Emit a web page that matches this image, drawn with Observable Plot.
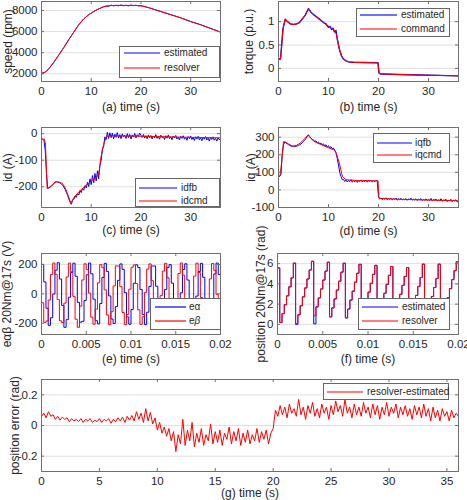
<!DOCTYPE html>
<html><head><meta charset="utf-8">
<script src="https://cdn.jsdelivr.net/npm/d3@7"></script>
<script src="https://cdn.jsdelivr.net/npm/@observablehq/plot@0.6"></script>
<style>
body{margin:0;background:#fff;}
#fig{position:relative;width:467px;height:500px;overflow:hidden;font-family:'Liberation Sans',Arial,sans-serif;color:#262626;}
.panel{position:absolute;}
.leg{position:absolute;background:#fff;border:1px solid #666;box-sizing:border-box;}
</style></head>
<body><div id="fig"></div>
<script>
// ---------- (a) speed ----------
const speedResT = [0,0.5,1,1.5,2.5,3.5,4.5,5.5,6.5,7.5,8.5,9.5,10.5,11.5,12.5,13.5,15,17,19,20,21,22,24,26,28,30,32,34,36];
const speedResV = [2050,2100,2250,2500,3100,3800,4500,5250,5950,6650,7200,7600,7900,8150,8350,8460,8480,8480,8470,8440,8340,8200,7900,7600,7300,6950,6650,6300,5950];
const speedEstT = [0,0.5,1,1.5,2.5,3.5,4.5,5.5,6.5,7.5,8.5,9.5,10.5,11.5,12.5,13,13.5,14,14.5,15,15.5,16,16.5,17,17.5,18,18.5,19,19.5,20,21,22,24,26,28,30,32,34,36];
const speedEstV = [2050,2100,2250,2500,3100,3800,4500,5250,5950,6650,7200,7600,7900,8150,8350,8420,8380,8510,8430,8500,8440,8520,8450,8490,8430,8520,8460,8500,8440,8450,8340,8200,7900,7600,7300,6950,6650,6300,5950];
// ---------- (b) torque ----------
const torqueCmdT = [0,0.4,0.6,0.9,1.35,1.8,2.4,3,3.6,4.2,4.8,5.4,6.0,6.5,7,8,9,10,10.8,11.3,11.6,11.9,12.2,12.6,13,13.5,14,15,17,19.9,20.1,20.5,24,28,32,36];
const torqueCmdV = [0.2,0.2,0.45,0.85,1.05,1.0,0.95,0.94,0.95,0.98,1.06,1.15,1.28,1.2,1.15,1.07,0.98,0.9,0.84,0.8,0.72,0.55,0.4,0.27,0.2,0.16,0.14,0.13,0.125,0.12,-0.1,-0.12,-0.13,-0.14,-0.15,-0.16];
const torqueEstT = [0,0.4,0.6,0.9,1.35,1.8,2.4,3,3.6,4.2,4.8,5.4,6.0,6.5,7,8,9,9.5,10,10.3,10.6,10.9,11.2,11.5,11.7,11.9,12.2,12.6,13,13.5,14,15,17,19.9,20.1,20.5,24,28,32,36];
const torqueEstV = [0.2,0.2,0.45,0.85,1.05,1.0,0.95,0.94,0.95,0.98,1.06,1.15,1.28,1.2,1.15,1.07,0.98,0.95,0.88,0.9,0.83,0.86,0.78,0.81,0.66,0.55,0.4,0.27,0.2,0.16,0.14,0.13,0.125,0.12,-0.1,-0.12,-0.13,-0.14,-0.15,-0.16];
// ---------- (c) id ----------  (idfb sampled every 0.25 s)
const idfb = [-20,-21,-25,-62,-150,-206,-204,-201,-198,-193,
-188,-183,-181,-182,-184,-186,-189,-195,-201,-210,
-221,-232,-246,-258,-266,-252,-247,-236,-240,-226,
-231,-214,-222,-205,-213,-196,-204,-183,-199,-170,
-192,-158,-185,-150,-178,-140,-170,-120,-100,-60,
-48,-12,-22,5,-18,3,-15,2,-20,-2,
-14,4,-17,-4,-19,-1,-12,-6,-18,0,
-15,-3,-20,-5,-13,1,-16,-4,-11,2,
-6,-14,-3,-17,-8,-19,-5,-15,-7,-20,
-9,-16,-4,-18,-10,-21,-6,-15,-11,-22,
-8,-17,-5,-19,-12,-23,-9,-16,-7,-20,
-13,-24,-10,-18,-8,-21,-14,-25,-11,-19,
-9,-22,-15,-26,-12,-20,-10,-23,-16,-27,
-13,-21,-11,-24,-17,-28,-14,-22,-12,-25,
-18,-28,-15,-23,-20];
const idcmdT = [0,0.6,0.8,1.15,1.5,2.2,2.8,3.5,4.2,4.8,5.4,5.9,6.5,7.9,9.9,11.3,11.6,11.9,12.3,12.6,13.1,14,20,25,30,36];
const idcmdV = [-20,-21,-40,-207,-203,-192,-181,-182,-187,-205,-235,-262,-240,-212,-180,-160,-140,-95,-55,-35,-10,-8,-10,-12,-14,-16];
// ---------- (d) iq ----------  (iqfb sampled every 0.25 s)
const iqfb = [75,78,90,205,256,273,267,262,257,253,
249,248,246,247,249,250,253,257,262,268,
276,283,293,304,314,302,296,287,285,276,
279,268,272,262,266,256,262,250,257,243,
252,240,246,234,238,226,212,178,142,98,
76,58,60,48,56,45,54,47,58,44,
52,46,55,43,53,48,57,45,51,47,
56,44,53,49,55,45,52,46,54,50,
-40,-52,-46,-55,-48,-53,-45,-56,-49,-54,
-47,-57,-50,-53,-46,-58,-51,-55,-48,-57,
-52,-56,-49,-59,-51,-55,-47,-58,-53,-57,
-50,-60,-52,-56,-49,-61,-54,-58,-51,-60,
-55,-59,-48,-62,-55,-57,-52,-63,-56,-60,
-50,-64,-57,-59,-53,-66,-58,-61,-54,-67,
-59,-62,-56,-68,-63];
const iqcmdT = [0,0.3,0.6,1.0,1.5,2,2.7,3.5,4.3,5.1,5.9,6.5,7.1,8.5,9.8,11.2,11.6,12.2,12.8,13.5,16,19.9,20.1,25,30,36];
const iqcmdV = [75,78,150,275,270,262,250,252,265,287,312,292,276,258,242,226,205,148,75,58,53,52,-48,-54,-58,-62];
// ---------- (e) back-EMF, samples every 0.25 ms ----------
const eAlpha = [201,81,-98,-215,-163,-1,161,212,101,-79,
-228,-176,-23,146,209,120,-58,-193,-187,-45,
130,210,137,-36,-183,-205,-66,112,208,153,
-14,-171,-203,-87,92,204,167,8,-157,-207,
-107,72,198,180,30,-141,-210,-125,51,190,
190,52,-124,-210,-142,29,179,199,73,-105,
-207,-157,7,166,205,94,-86,-202,-171,-15,
152,208,113,-65,-196,-183,-38,136,210,131,
-44];
const eBeta = [-61,-194,-185,-42,132,210,134,-39,-184,-195,
-63,115,209,151,-17,-173,-228,-84,95,205,
165,5,-159,-207,-104,75,199,178,27,-144,
-210,-122,54,191,189,49,-127,-210,-140,32,
181,197,70,-109,-208,-156,10,169,204,90,
-89,-203,-169,-12,155,208,110,-68,-197,-182,
-34,139,210,128,-47,-188,-192,-56,121,209,
145,-25,-177,-200,-76,102,207,160,-3,-164,
-205];
// ---------- (f) position, samples every 0.25 ms ----------
const posResolver = [5.58,0.18,1.06,1.94,2.82,3.71,4.59,6.05,0.07,0.95,
1.84,2.72,3.60,4.48,5.37,6.25,0.85,1.73,2.61,3.50,
4.38,5.26,6.14,0.74,1.63,2.51,3.39,4.27,5.16,6.04,
0.64,1.52,2.40,3.28,4.17,5.05,5.93,0.53,1.41,2.30,
3.18,4.06,4.94,5.83,0.43,1.31,2.19,3.07,3.96,4.84,
5.72,0.32,1.20,2.09,2.97,3.85,4.73,5.62,0.22,1.10,
1.98,2.86,3.75,4.63,5.95,0.11,0.99,1.87,2.76,3.64,
4.52,5.95,0.00,0.89,1.77,2.65,3.53,4.42,5.30,6.18,
0.78];
const posEstimated = [5.58,0.18,1.06,1.94,2.82,3.71,4.59,6.05,0.00,0.95,
1.84,2.72,3.60,4.48,5.37,6.20,0.05,1.73,2.61,3.50,
4.38,5.26,6.14,0.74,1.63,2.51,3.39,4.27,5.16,6.04,
0.64,1.52,2.40,3.28,4.17,5.05,5.93,0.53,1.41,2.30,
3.18,4.06,4.94,5.83,0.43,1.31,2.19,3.07,3.96,4.84,
5.72,0.32,1.20,2.09,2.97,3.85,4.73,5.62,0.22,1.10,
1.98,2.86,3.75,4.63,5.95,0.11,0.99,1.87,2.76,3.64,
4.52,5.95,0.00,0.89,1.77,2.65,3.53,4.42,5.30,6.18,
0.78];
// ---------- (g) position error, every 0.2 s ----------
const posError = [0.06,0.08,0.05,0.09,0.06,0.07,0.04,0.06,0.035,0.055,
0.04,0.05,0.025,0.045,0.03,0.04,0.025,0.045,0.02,0.04,
0.03,0.045,0.02,0.035,0.025,0.045,0.02,0.04,0.03,0.045,
0.015,0.04,0.025,0.05,0.03,0.055,0.02,0.06,0.035,0.065,
0.03,0.09,0.04,0.08,0.02,0.11,0.03,0.085,0.01,0.05,
-0.03,0.02,-0.05,-0.01,-0.07,-0.02,-0.1,-0.04,-0.17,-0.06,
-0.12,0.04,-0.13,-0.03,-0.1,0.02,-0.14,-0.05,-0.11,-0.02,
-0.13,-0.06,-0.1,0.01,-0.12,-0.04,-0.11,-0.03,-0.13,-0.05,
-0.09,-0.01,-0.12,-0.04,-0.1,-0.02,-0.13,-0.05,-0.11,-0.03,
-0.12,-0.06,-0.1,-0.02,-0.11,-0.04,-0.09,-0.03,-0.12,-0.05,
-0.02,0.1,0.06,0.13,0.07,0.12,0.05,0.14,0.08,0.11,
0.06,0.17,0.07,0.12,0.04,0.13,0.08,0.15,0.06,0.11,
0.05,0.14,0.08,0.12,0.04,0.13,0.07,0.16,0.09,0.13,
0.06,0.17,0.08,0.12,0.05,0.14,0.07,0.12,0.06,0.15,
0.08,0.12,0.05,0.14,0.07,0.13,0.04,0.12,0.07,0.15,
0.06,0.12,0.08,0.14,0.05,0.12,0.07,0.13,0.06,0.11,
0.04,0.13,0.07,0.12,0.05,0.14,0.06,0.11,0.03,0.12,
0.05,0.1,0.03,0.11,0.06,0.09,0.03,0.1,0.05,0.08,
0.06];

// tick values
const ticksT36 = [0,10,20,30];
const ticksT5 = [0,5,10,15,20,25,30,35];
const ticksMs = [0,0.005,0.01,0.015,0.02];
const ticksSpeed = [2000,4000,6000,8000];
const ticksTorque = [0,0.5,1];
const ticksId = [-200,-100,0];
const ticksIq = [-100,0,100,200,300];
const ticksE = [-200,0,200];
const ticksPos = [0,2,4,6];
const ticksErr = [-0.2,0,0.2];

// helpers building tables
const pairs = (T, V) => T.map((t, i) => ({t, v: V[i]}));
const sampled = (V, dt) => V.map((v, i) => ({t: i * dt, v}));

const fig = document.getElementById("fig");
const AX = "#707070";

function panel(c) {
  const fw = c.width - c.ml - c.mr, fh = c.height - c.mt - c.mb;
  const fmt = d => String(d);
  const marks = [
    Plot.ruleY(c.yTicks, {y: d => d, stroke: "#e0e0e0"}),
    ...c.series.map(s => Plot.line(s.data, {x: "t", y: "v", stroke: s.color, strokeWidth: s.w || 1, curve: s.curve || "linear", clip: true})),
    Plot.frame({stroke: AX}),
    Plot.tickX(c.xTicks, {x: d => d, stroke: AX, insetTop: fh - 3}),
    Plot.tickX(c.xTicks, {x: d => d, stroke: AX, insetBottom: fh - 3}),
    Plot.tickY(c.yTicks, {y: d => d, stroke: AX, insetRight: fw - 3}),
    Plot.tickY(c.yTicks, {y: d => d, stroke: AX, insetLeft: fw - 3}),
    Plot.axisX(c.xTicks, {tickSize: 0, tickPadding: 5, tickFormat: fmt, label: null, fill: "#262626"}),
    Plot.axisY(c.yTicks, {tickSize: 0, tickPadding: 4, tickFormat: fmt, label: null, fill: "#262626"}),
    Plot.text([c.xlabel], {text: d => d, frameAnchor: "bottom", lineAnchor: "middle", textAnchor: "middle", dy: c.xdy, fontSize: 12, fill: "#262626"}),
    Plot.text([c.ylabel], {text: d => d, frameAnchor: "left", lineAnchor: "middle", textAnchor: "middle", dx: c.ydx, rotate: -90, fontSize: 12, fill: "#262626"})
  ];
  const svg = Plot.plot({
    width: c.width, height: c.height,
    marginTop: c.mt, marginBottom: c.mb, marginLeft: c.ml, marginRight: c.mr,
    x: {domain: c.xDomain}, y: {domain: c.yDomain},
    style: {fontFamily: "'Liberation Sans', Arial, sans-serif", fontSize: "11.5px", color: "#262626", background: "transparent", overflow: "visible"},
    marks
  });
  svg.classList.add("panel");
  svg.style.left = c.left + "px";
  svg.style.top = c.top + "px";
  fig.appendChild(svg);
}

const SVGNS = "http://www.w3.org/2000/svg";
function legend(box, items) {
  const d = document.createElement("div");
  d.className = "leg";
  Object.assign(d.style, {left: box.l + "px", top: box.t + "px", width: box.w + "px", height: box.h + "px"});
  const s = document.createElementNS(SVGNS, "svg");
  s.setAttribute("width", box.w); s.setAttribute("height", box.h);
  Object.assign(s.style, {position: "absolute", left: "-1px", top: "-1px"});
  for (const it of items) {
    const ln = document.createElementNS(SVGNS, "line");
    ln.setAttribute("x1", it.x1 - box.l); ln.setAttribute("x2", it.x2 - box.l);
    ln.setAttribute("y1", it.y - box.t); ln.setAttribute("y2", it.y - box.t);
    ln.setAttribute("stroke", it.color); ln.setAttribute("stroke-width", it.w || 1.2);
    s.appendChild(ln);
    const tx = document.createElement("div");
    tx.innerHTML = it.label;
    Object.assign(tx.style, {position: "absolute", left: (it.tx - box.l - 1) + "px", top: (it.y - box.t - 8) + "px",
      lineHeight: "13px", fontSize: "10px", whiteSpace: "nowrap", color: "#262626"});
    d.appendChild(tx);
  }
  d.appendChild(s);
  fig.appendChild(d);
}

// Row 1
panel({left: 0, top: 0, width: 233, height: 118, mt: 1, mb: 37, ml: 41, mr: 13,
  xDomain: [0, 36], yDomain: [1270, 8850], xTicks: ticksT36, yTicks: ticksSpeed,
  xlabel: "(a) time (s)", ylabel: "speed (rpm)", xdy: 26, ydx: -33,
  series: [{data: pairs(speedEstT, speedEstV), color: "blue"}, {data: pairs(speedResT, speedResV), color: "red"}]});
panel({left: 233, top: 0, width: 234, height: 118, mt: 1, mb: 37, ml: 45, mr: 9,
  xDomain: [0, 36], yDomain: [-0.28, 1.43], xTicks: ticksT36, yTicks: ticksTorque,
  xlabel: "(b) time (s)", ylabel: "torque (p.u.)", xdy: 26, ydx: -29,
  series: [{data: pairs(torqueEstT, torqueEstV), color: "blue", w: 1.4}, {data: pairs(torqueCmdT, torqueCmdV), color: "red"}]});
// Row 2
panel({left: 0, top: 118, width: 233, height: 126, mt: 9, mb: 37, ml: 41, mr: 13,
  xDomain: [0, 36], yDomain: [-278, 23], xTicks: ticksT36, yTicks: ticksId,
  xlabel: "(c) time (s)", ylabel: "id (A)", xdy: 23, ydx: -33,
  series: [{data: sampled(idfb, 0.25), color: "blue"}, {data: pairs(idcmdT, idcmdV), color: "red"}]});
panel({left: 233, top: 118, width: 234, height: 126, mt: 9, mb: 37, ml: 45, mr: 9,
  xDomain: [0, 36], yDomain: [-100, 355], xTicks: ticksT36, yTicks: ticksIq,
  xlabel: "(d) time (s)", ylabel: "iq (A)", xdy: 24, ydx: -27,
  series: [{data: sampled(iqfb, 0.25), color: "blue"}, {data: pairs(iqcmdT, iqcmdV), color: "red"}]});
// Row 3
panel({left: 0, top: 244, width: 233, height: 127, mt: 9, mb: 37, ml: 41, mr: 13,
  xDomain: [0, 0.02], yDomain: [-277, 275], xTicks: ticksMs, yTicks: ticksE,
  xlabel: "(e) time (s)", ylabel: "eαβ 20Nm@17s (V)", xdy: 25, ydx: -34,
  series: [{data: sampled(eAlpha, 0.00025), color: "blue", curve: "step-after"}, {data: sampled(eBeta, 0.00025), color: "red", curve: "step-after"}]});
panel({left: 233, top: 244, width: 234, height: 127, mt: 9, mb: 37, ml: 44, mr: 9,
  xDomain: [0, 0.02], yDomain: [-1, 7], xTicks: ticksMs, yTicks: ticksPos,
  xlabel: "(f) time (s)", ylabel: "position 20Nm@17s (rad)", xdy: 25, ydx: -16,
  series: [{data: sampled(posEstimated, 0.00025), color: "blue", curve: "step-after"}, {data: sampled(posResolver, 0.00025), color: "red", curve: "step-after"}]});
// Row 4
panel({left: 0, top: 371, width: 467, height: 129, mt: 8, mb: 29, ml: 41, mr: 9,
  xDomain: [0, 36], yDomain: [-0.3, 0.3], xTicks: ticksT5, yTicks: ticksErr,
  xlabel: "(g) time (s)", ylabel: "position error (rad)", xdy: 22, ydx: -26,
  series: [{data: sampled(posError, 0.2), color: "red"}]});

// Legends
legend({l: 119, t: 46, w: 101, h: 32}, [
  {label: "estimated", color: "blue", x1: 124, x2: 160, tx: 164, y: 53},
  {label: "resolver", color: "red", x1: 124, x2: 160, tx: 164, y: 68}]);
legend({l: 356, t: 8, w: 94, h: 29}, [
  {label: "estimated", color: "#7070ff", w: 2, x1: 360, x2: 397, tx: 401, y: 15},
  {label: "command", color: "red", x1: 360, x2: 397, tx: 401, y: 29}]);
legend({l: 135, t: 178, w: 85, h: 29}, [
  {label: "idfb", color: "blue", x1: 139, x2: 177, tx: 181, y: 188},
  {label: "idcmd", color: "red", x1: 139, x2: 177, tx: 181, y: 201}]);
legend({l: 373, t: 133, w: 77, h: 30}, [
  {label: "iqfb", color: "blue", x1: 377, x2: 412, tx: 415, y: 143},
  {label: "iqcmd", color: "red", x1: 377, x2: 412, tx: 415, y: 155}]);
legend({l: 150, t: 298, w: 71, h: 32}, [
  {label: "eα", color: "blue", x1: 155, x2: 186, tx: 189, y: 307},
  {label: "e<i>β</i>", color: "red", x1: 155, x2: 186, tx: 189, y: 321}]);
legend({l: 358, t: 298, w: 92, h: 32}, [
  {label: "estimated", color: "blue", x1: 362, x2: 398, tx: 402, y: 307},
  {label: "resolver", color: "red", x1: 362, x2: 398, tx: 402, y: 321}]);
legend({l: 323, t: 383, w: 126, h: 17}, [
  {label: "resolver-estimated", color: "red", x1: 327, x2: 363, tx: 367, y: 392}]);
</script>
</body></html>
